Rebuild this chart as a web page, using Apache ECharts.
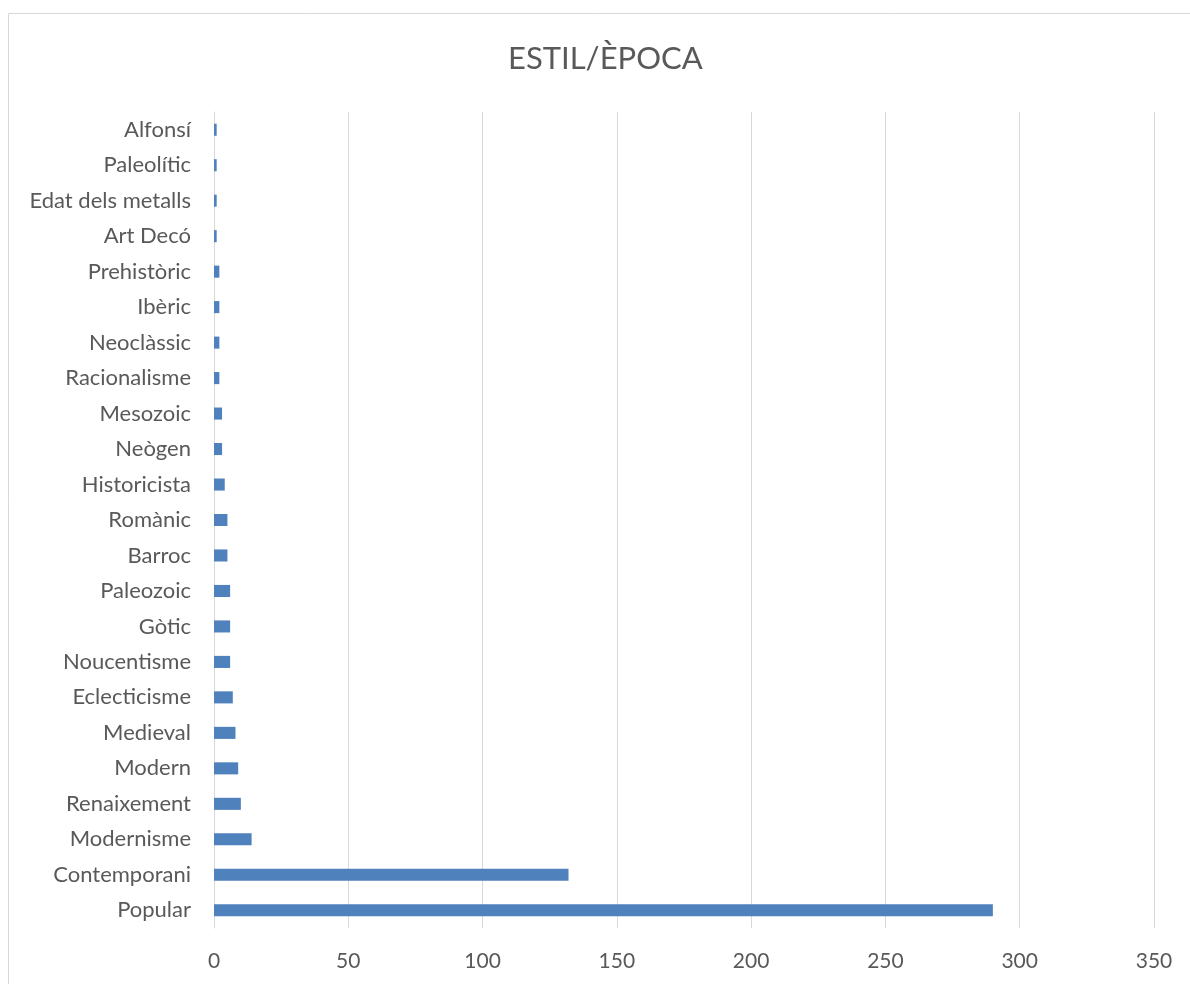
<!DOCTYPE html>
<html>
<head>
<meta charset="utf-8">
<script src="https://cdn.jsdelivr.net/npm/echarts@6/dist/echarts.min.js"></script>
<style>html,body{margin:0;padding:0;background:#fff;}#c{width:1190px;height:984px;}</style>
</head>
<body>
<div id="c"></div>
<script>
const categories = ["Popular","Contemporani","Modernisme","Renaixement","Modern","Medieval","Eclecticisme","Noucentisme","Gòtic","Paleozoic","Barroc","Romànic","Historicista","Neògen","Mesozoic","Racionalisme","Neoclàssic","Ibèric","Prehistòric","Art Decó","Edat dels metalls","Paleolític","Alfonsí"];
const values = [290,132,14,10,9,8,7,6,6,6,5,5,4,3,3,2,2,2,2,1,1,1,1];
const xTicks = [0,50,100,150,200,250,300,350];

const chart = echarts.init(document.getElementById('c'), null, {renderer:'canvas'});
const font = 'Lato, "Open Sans", sans-serif';
chart.setOption({
  animation:false,
  title:{text:'ESTIL/ÈPOCA', left:503, top:38, textStyle:{fontFamily:font, fontSize:31, fontWeight:'normal', color:'#595959'}},
  graphic:[{type:'rect', shape:{x:8.5,y:13.5,width:1200,height:1000}, style:{fill:'none', stroke:'#d9d9d9', lineWidth:1}, silent:true, z:-10}],
  grid:{left:214, right:36, top:112, bottom:56},
  xAxis:{type:'value', min:xTicks[0], max:xTicks[xTicks.length-1], interval:50,
    axisLine:{show:false}, axisTick:{show:false},
    splitLine:{lineStyle:{color:'#d9d9d9', width:1}},
    axisLabel:{margin:23, fontFamily:font, fontSize:21, color:'#595959'}},
  yAxis:{type:'category', data:categories,
    axisLine:{show:true, lineStyle:{color:'#d9d9d9', width:1}}, axisTick:{show:false},
    axisLabel:{margin:23, fontFamily:font, fontSize:22, color:'#595959'}},
  series:[{type:'bar', data:values, barCategoryGap:'66%', itemStyle:{color:'#4f81bd'}}]
});
</script>
</body>
</html>
